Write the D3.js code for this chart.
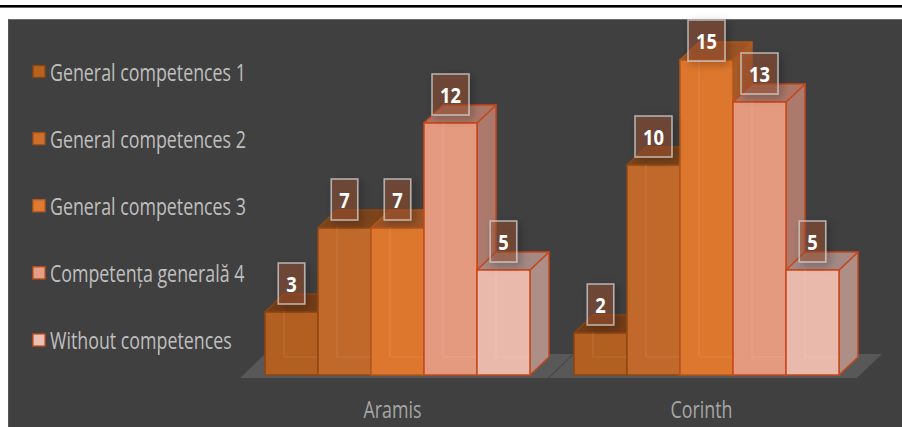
<!DOCTYPE html>
<html>
<head>
<meta charset="utf-8">
<script src="https://cdn.jsdelivr.net/npm/d3@7"></script>
<style>
  html, body { margin: 0; padding: 0; background: #ffffff; }
  svg { display: block; }
  text { font-family: "Open Sans", "Noto Sans", "DejaVu Sans", sans-serif; }
</style>
</head>
<body>
<svg id="chart" width="902" height="427"></svg>
<script>
// ---- data ----
const categories = ["Aramis", "Corinth"];
const seriesNames = ["General competences 1", "General competences 2", "General competences 3", "Competența generală 4", "Without competences"];
const gc1 = [3, 2];
const gc2 = [7, 10];
const gc3 = [7, 15];
const gc4 = [12, 13];
const without = [5, 5];
const seriesValues = [gc1, gc2, gc3, gc4, without];

// ---- styles ----
const frontColors = ["#b45f22", "#c0692a", "#dd772d", "#e39a7f", "#e9baab"];
const topColors   = ["#743d18", "#7c441b", "#9a5426", "#aa7767", "#a38883"];
const sideColors  = ["#8e4c1d", "#96521f", "#a85c28", "#ab7a6c", "#ad8f88"];
const edgeColors  = ["#8a4412", "#8f4814", "#b5561a", "#c9461b", "#c9461b"];
const legendFill  = ["#b8621f", "#cf6e2a", "#e07a30", "#e59f88", "#ecc1b5"];
const legendEdge  = ["#8a4515", "#a0521c", "#b85a1e", "#c9501f", "#c9501f"];

const W = 902, H = 427;
const svg = d3.select("#chart");
const defs = svg.append("defs");
const f = defs.append("filter").attr("id", "shadow").attr("x", "-50%").attr("y", "-50%").attr("width", "200%").attr("height", "200%");
f.append("feDropShadow").attr("dx", 3).attr("dy", 3).attr("stdDeviation", 4)
  .attr("flood-color", "#000").attr("flood-opacity", 0.45);

// horizontal compression so the humanist font matches the condensed look
function measure(txt, size, weight) {
  const t = svg.append("text").attr("font-size", size + "px").attr("font-weight", weight).text(txt);
  const w = t.node().getComputedTextLength();
  t.remove();
  return w;
}
const kReg = 196 / measure("General competences 1", 23, "normal");
const kBold = 21 / measure("10", 21, "bold");

function addText(parent, x, yy, k, txt) {
  return parent.append("text").attr("transform", `translate(${x},${yy}) scale(${k},1)`).text(txt);
}

// background & frame
svg.append("rect").attr("x", 0).attr("y", 5).attr("width", W).attr("height", 2.6).attr("fill", "#000");
svg.append("rect").attr("x", 8).attr("y", 19).attr("width", W - 8).attr("height", H - 19).attr("fill", "#404040");
svg.append("line").attr("x1", 8).attr("x2", W).attr("y1", 19.5).attr("y2", 19.5).attr("stroke", "#6e6e6e").attr("stroke-width", 1);
svg.append("line").attr("x1", 8.5).attr("x2", 8.5).attr("y1", 19).attr("y2", H).attr("stroke", "#555").attr("stroke-width", 1);

// scales
const x0 = d3.scaleBand().domain(categories).range([265, 839]).paddingInner(0.1424).paddingOuter(0);
const x1 = d3.scaleBand().domain(seriesNames).range([0, x0.bandwidth()]).padding(0);
const y = d3.scaleLinear().domain([0, 15]).range([375, 60]);

const dx = 19, dy = 18;
const base = y(0);

// floors
const plot = svg.append("g");
categories.forEach(c => {
  const l = x0(c) - 25, r = x0(c) + x0.bandwidth() + 18;
  const fy = base + 3, fdx = 25, fdy = 24;
  plot.append("polygon")
    .attr("points", [[l, fy], [r, fy], [r + fdx, fy - fdy], [l + fdx, fy - fdy]].map(p => p.join(",")).join(" "))
    .attr("fill", "#585858");
});

// bars
categories.forEach((c, ci) => {
  const g = plot.append("g");
  seriesNames.forEach((s, si) => {
    const v = seriesValues[si][ci];
    const x = x0(c) + x1(s), w = x1.bandwidth();
    const yt = y(v);
    const pts = a => a.map(p => p.join(",")).join(" ");
    g.append("polygon")
      .attr("points", pts([[x + w, yt], [x + w + dx, yt - dy], [x + w + dx, base - dy], [x + w, base]]))
      .attr("fill", sideColors[si]).attr("stroke", edgeColors[si]).attr("stroke-width", 1.5).attr("stroke-linejoin", "round");
    g.append("polygon")
      .attr("points", pts([[x, yt], [x + dx, yt - dy], [x + w + dx, yt - dy], [x + w, yt]]))
      .attr("fill", topColors[si]).attr("stroke", edgeColors[si]).attr("stroke-width", 1.5).attr("stroke-linejoin", "round");
    g.append("rect").attr("x", x).attr("y", yt).attr("width", w).attr("height", base - yt)
      .attr("fill", frontColors[si]).attr("stroke", edgeColors[si]).attr("stroke-width", 1.5);
    g.append("path")
      .attr("d", `M${x + dx},${yt - 1} L${x + dx},${base - dy} L${x + w},${base - dy}`)
      .attr("fill", "none").attr("stroke", "#ffffff").attr("stroke-opacity", 0.1).attr("stroke-width", 1.2);
  });
});

// data labels
const labels = svg.append("g");
categories.forEach((c, ci) => {
  seriesNames.forEach((s, si) => {
    const v = seriesValues[si][ci];
    const cx = x0(c) + x1(s) + x1.bandwidth() / 2;
    const bh = 41;
    let top = y(v) - 8 - bh;
    if (top < 20) { top = 20; }
    const tw = measure(String(v), 21, "bold") * kBold;
    const bw = tw + 16;
    labels.append("rect")
      .attr("x", cx - bw / 2).attr("y", top).attr("width", bw).attr("height", bh)
      .attr("fill", "rgba(160,85,50,0.45)").attr("stroke", "#d0d0d0").attr("stroke-opacity", 0.75)
      .attr("stroke-width", 1.6).attr("filter", "url(#shadow)");
    addText(labels, cx, top + bh / 2 + 8, kBold, v)
      .attr("text-anchor", "middle").attr("fill", "#ffffff").attr("font-weight", "bold")
      .attr("font-size", "21px");
  });
});

// category labels
categories.forEach(c => {
  addText(svg, x0(c) + x0.bandwidth() / 2 - 5, 418, kReg, c)
    .attr("text-anchor", "middle").attr("fill", "#a6a6a6").attr("font-size", "23px");
});

// legend
const legend = svg.append("g");
const legY = d3.scalePoint().domain(seriesNames).range([72, 340.5]);
seriesNames.forEach((s, si) => {
  const cy = legY(s);
  legend.append("rect").attr("x", 33).attr("y", cy - 6.5).attr("width", 12).attr("height", 12)
    .attr("fill", legendFill[si]).attr("stroke", legendEdge[si]).attr("stroke-width", 1.3);
  addText(legend, 50, cy + 8.5, kReg, s).attr("fill", "#bfbfbf").attr("font-size", "23px");
});
</script>
</body>
</html>
